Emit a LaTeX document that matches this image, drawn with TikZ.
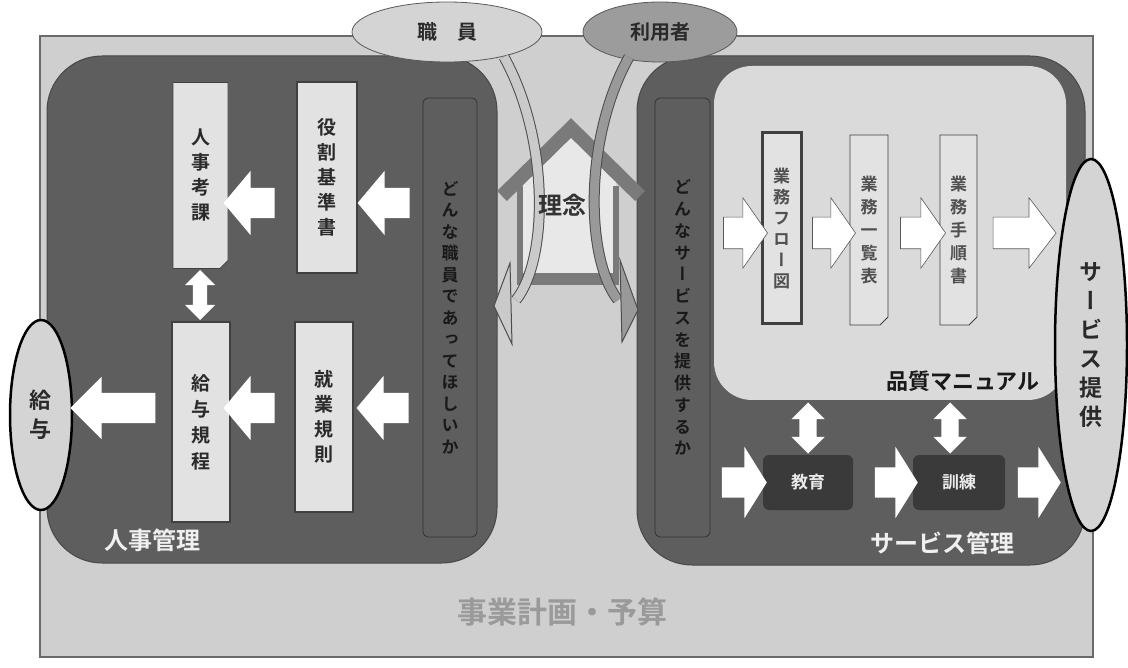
\documentclass[tikz,border=0pt]{standalone}
\usepackage{fontspec}
\setmainfont{Noto Sans CJK JP}[BoldFont={Noto Sans CJK JP Bold}]
\newfontfamily\vjp[RawFeature=+vert, BoldFont={Noto Sans CJK JP Bold}]{Noto Sans CJK JP}
\usetikzlibrary{shapes.arrows,shapes.misc,shapes.geometric}
\definecolor{bgG}{HTML}{CFCFCF}
\definecolor{rimG}{HTML}{6A6A6A}
\definecolor{panelG}{HTML}{5E5E5E}
\definecolor{panelRim}{HTML}{484848}
\definecolor{docG}{HTML}{E2E2E2}
\definecolor{qmG}{HTML}{DADADA}
\definecolor{darkBox}{HTML}{3A3A3A}
\definecolor{txtG}{HTML}{2A2A2A}
\definecolor{lightTxt}{HTML}{505050}
\definecolor{staffG}{HTML}{D4D4D4}
\definecolor{userG}{HTML}{9C9C9C}
\definecolor{roofG}{HTML}{7A7A7A}
\definecolor{houseIn}{HTML}{E8E8E8}
\definecolor{planG}{HTML}{9A9A9A}
\definecolor{bandL}{HTML}{CACACA}
\definecolor{bandR}{HTML}{999999}
\newcommand{\myvf}[2]{\vjp\bfseries\fontsize{#1}{#2}\selectfont}
\newcommand{\myhf}[1]{\fontsize{#1}{#1}\selectfont}
\tikzset{
  vtxt/.style={align=center, text=txtG},
  docbox/.style={draw=black!75, fill=docG, line width=0.8pt, inner sep=0pt,
    chamfered rectangle, chamfered rectangle corners=south east,
    chamfered rectangle xsep=4pt, chamfered rectangle ysep=4pt, vtxt},
  rulebox/.style={draw=black!75, fill=docG, line width=1.8pt, inner sep=0pt, vtxt},
  askbox/.style={draw=black!80, fill=panelG, rounded corners=5pt, line width=0.8pt,
    inner sep=0pt, align=center, text=black!90},
  trainbox/.style={fill=darkBox, rounded corners=6pt, inner sep=0pt, text=white!92!black,
    font=\bfseries\myhf{17}},
  ovalend/.style={ellipse, draw=black, line width=2.5pt, fill=staffG, inner sep=0pt,
    align=center, text=txtG},
  blk/.style n args={4}{single arrow, inner sep=0pt, inner ysep=#2,
    minimum height=#1, single arrow head extend=#3, single arrow tip angle=#4},
  wleft/.style={fill=white, draw=none, shape border rotate=180},
  wright/.style={fill=white, draw=none, shape border rotate=0},
  wrightline/.style={fill=white, draw=black!65, line width=0.6pt, shape border rotate=0},
  dblv/.style n args={3}{double arrow, inner sep=#2, minimum height=#1,
    double arrow head extend=#3, shape border rotate=90, fill=white, draw=none},
  paneltitle/.style={text=white!94!black, font=\bfseries\myhf{24}},
}
\begin{document}
\begin{tikzpicture}[x=1pt,y=-1pt]
\useasboundingbox (0,0) rectangle (1128,668);
% background frame
\draw[fill=bgG, draw=rimG, line width=1.5pt] (40,36) rectangle (1093,657);
% panels
\draw[fill=panelG, draw=panelRim, line width=1pt, rounded corners=55pt] (47,56) rectangle (497,563);
\draw[fill=panelG, draw=panelRim, line width=1pt, rounded corners=55pt] (637,56) rectangle (1085,565);
\fill[qmG, rounded corners=38pt] (714,66) rectangle (1066,400);
% top ellipses
\node[ellipse, draw=black!65, line width=0.8pt, fill=staffG, minimum width=190pt, minimum height=60pt, font=\bfseries\myhf{20}, text=txtG] (staff) at (447,32) {職　員};
\node[ellipse, draw=black!65, line width=0.8pt, fill=userG, minimum width=154pt, minimum height=60pt, font=\bfseries\myhf{20}, text=txtG] (user) at (660,32) {利用者};
% house
\fill[houseIn] (520,176) -- (571,126) -- (616,172) -- (616,279) -- (520,279) -- cycle;
\draw[roofG, line width=14pt] (502,196) -- (571,128) -- (640,196);
\draw[roofG, line width=6pt] (520,186) -- (520,284) (616,186) -- (616,284);
\draw[roofG, line width=12pt] (517,279) -- (619,279);
% curved arrows
\draw[line width=11pt, draw=black!70] (504,57) .. controls (550,140) and (548,260) .. (516,300);
\draw[line width=9pt, draw=bandL] (504,57) .. controls (550,140) and (548,260) .. (516,300);
\filldraw[fill=bandL, draw=black!70, line width=1pt] (510,263) -- (494,306) -- (512,344) -- cycle;
\draw[line width=11pt, draw=black!70] (629,57) .. controls (583,140) and (586,260) .. (618,300);
\draw[line width=9pt, draw=bandR] (629,57) .. controls (583,140) and (586,260) .. (618,300);
\filldraw[fill=bandR, draw=black!70, line width=1pt] (620,260) -- (638,310) -- (622,342) -- cycle;
\node[font=\bfseries\myhf{24}, text=black!80] (rinen) at (562,205) {理念};
% left panel boxes
\node[docbox, minimum width=55pt, minimum height=186pt, font=\myvf{19}{25}] (hk) at (200.5,175.5) {人\\事\\考\\課};
\node[rulebox, minimum width=60pt, minimum height=191pt, font=\myvf{19}{25}] (yk) at (327,177.5) {役\\割\\基\\準\\書};
\node[rulebox, minimum width=58pt, minimum height=200pt, font=\myvf{19}{26}] (kt) at (201,422) {給\\与\\規\\程};
\node[rulebox, minimum width=58pt, minimum height=190pt, font=\myvf{19}{25}] (sg) at (324,417) {就\\業\\規\\則};
\node[askbox, minimum width=54pt, minimum height=439pt, font=\myvf{17}{21.5}] (dj) at (450,317.5) {ど\\ん\\な\\職\\員\\で\\あ\\っ\\て\\ほ\\し\\い\\か};
\node[ovalend, minimum width=62pt, minimum height=190pt, font=\myvf{22}{29}] (kyu) at (41,415) {給\\与};
% left arrows
\node[blk={51pt}{15pt}{17pt}{100}, wleft] (a1) at (255.5,203) {};
\node[blk={52pt}{15pt}{17pt}{100}, wleft] (a2) at (390,203) {};
\node[blk={51pt}{15pt}{17pt}{100}, wleft] (a3) at (255.5,408) {};
\node[blk={52pt}{15pt}{17pt}{100}, wleft] (a4) at (389,408) {};
\node[blk={85pt}{15pt}{16pt}{90}, wleft] (a5) at (120.5,408) {};
\node[dblv={50pt}{7pt}{8pt}] (d0) at (200,295) {};
% right panel
\node[askbox, minimum width=55pt, minimum height=439pt, font=\myvf{17}{21.75}] (ds) at (682.5,317.5) {ど\\ん\\な\\サ\\ー\\ビ\\ス\\を\\提\\供\\す\\る\\か};
\node[rulebox, line width=3pt, minimum width=39pt, minimum height=191pt, font=\myvf{17}{21}, text=lightTxt] (gf) at (781.5,228.5) {業\\務\\フ\\ロ\\ー\\図};
\node[docbox, minimum width=38pt, minimum height=190pt, font=\myvf{17}{23}, text=lightTxt] (gi) at (869,230) {業\\務\\一\\覧\\表};
\node[docbox, minimum width=37pt, minimum height=190pt, font=\myvf{17}{23}, text=lightTxt] (gt) at (958.5,230) {業\\務\\手\\順\\書};
\node[font=\bfseries\myhf{22}, text=black!90] (qm) at (963,381) {品質マニュアル};
\node[blk={44pt}{15.5pt}{19.5pt}{110}, wrightline] (b1) at (740,233) {};
\node[blk={43pt}{15.5pt}{19.5pt}{110}, wrightline] (b2) at (828.5,233) {};
\node[blk={45pt}{15.5pt}{19.5pt}{110}, wrightline] (b3) at (917.5,233) {};
\node[blk={63pt}{15.5pt}{19.5pt}{105}, wrightline] (b4) at (1018.5,233) {};
\node[trainbox, minimum width=90pt, minimum height=55pt] (edu) at (808,482.5) {教育};
\node[trainbox, minimum width=92pt, minimum height=55pt] (trn) at (959,482.5) {訓練};
\node[blk={45pt}{15pt}{20.5pt}{116}, wright] (c1) at (739.5,482.5) {};
\node[blk={43pt}{15pt}{20.5pt}{116}, wright] (c2) at (891.5,482.5) {};
\node[blk={43pt}{15pt}{20.5pt}{116}, wright] (c3) at (1034.5,482.5) {};
\node[dblv={51pt}{8.5pt}{8pt}] (d1) at (808,428) {};
\node[dblv={51pt}{8.5pt}{8pt}] (d2) at (950,428) {};
\node[ovalend, minimum width=72pt, minimum height=372pt, font=\myvf{23}{29}] (sv) at (1091,345) {サ\\ー\\ビ\\ス\\提\\供};
% titles
\node[paneltitle] (jinji) at (152,540) {人事管理};
\node[paneltitle] (svk) at (942,543) {サービス管理};
\node[font=\bfseries\myhf{30}, text=planG] (plan) at (562,612) {事業計画・予算};
\end{tikzpicture}
\end{document}
